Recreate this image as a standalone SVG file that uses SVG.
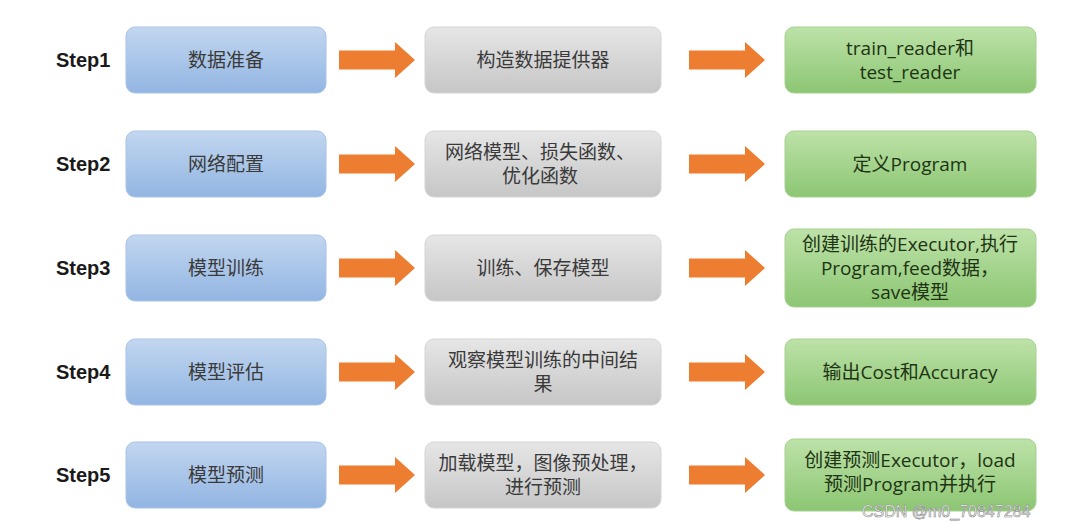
<svg xmlns="http://www.w3.org/2000/svg" width="1080" height="522" viewBox="0 0 1080 522">
<defs>
<linearGradient id="gb" x1="0" y1="0" x2="0" y2="1"><stop offset="0" stop-color="#c2d6f0"/><stop offset="1" stop-color="#92b5e2"/></linearGradient>
<linearGradient id="gg" x1="0" y1="0" x2="0" y2="1"><stop offset="0" stop-color="#e6e6e6"/><stop offset="1" stop-color="#c6c6c6"/></linearGradient>
<linearGradient id="gn" x1="0" y1="0" x2="0" y2="1"><stop offset="0" stop-color="#bde2a8"/><stop offset="1" stop-color="#8cc673"/></linearGradient>
<path id="arr" d="M0,-9.5 H56 V-18 L76,0 L56,18 V9.5 H0 Z"/>
</defs>
<style>
.blue{fill:url(#gb);stroke:#a9c3e6;stroke-width:1}
.gray{fill:url(#gg);stroke:#d4d4d4;stroke-width:1}
.green{fill:url(#gn);stroke:#a5d18f;stroke-width:1}
.t{font-family:"Open Sans","Noto Sans CJK SC",sans-serif;font-size:19px;fill:#3a3a3a;text-anchor:middle}
.tg{font-family:"Open Sans","Noto Sans CJK SC",sans-serif;font-size:19px;fill:#1e3414;text-anchor:middle}
.step{font-family:"Liberation Sans","Noto Sans CJK SC",sans-serif;font-size:20px;font-weight:bold;fill:#1a1a1a}
.a{fill:#ed7d31}
.wm{font-family:"Liberation Sans",sans-serif;font-size:16px;fill:#ffffff;stroke:#888;stroke-width:0.6}
</style>
<rect width="1080" height="522" fill="#ffffff"/>
<g id="steps">
<text class="step" x="56" y="67">Step1</text>
<text class="step" x="56" y="171">Step2</text>
<text class="step" x="56" y="275">Step3</text>
<text class="step" x="56" y="379">Step4</text>
<text class="step" x="56" y="482">Step5</text>
</g>
<g id="n1a"><rect class="blue" x="126" y="27" width="200" height="66" rx="9"/><text class="t" x="226" y="67">数据准备</text></g>
<g id="n1b"><rect class="gray" x="425" y="27" width="236" height="66" rx="9"/><text class="t" x="543" y="67">构造数据提供器</text></g>
<g id="n1c"><rect class="green" x="785" y="27" width="251" height="66" rx="9"/><text class="tg" x="910" y="55">train_reader和</text><text class="tg" x="910" y="79">test_reader</text></g>
<g id="n2a"><rect class="blue" x="126" y="131" width="200" height="66" rx="9"/><text class="t" x="226" y="171">网络配置</text></g>
<g id="n2b"><rect class="gray" x="425" y="131" width="236" height="66" rx="9"/><text class="t" x="540" y="159">网络模型、损失函数、</text><text class="t" x="540" y="183">优化函数</text></g>
<g id="n2c"><rect class="green" x="785" y="131" width="251" height="66" rx="9"/><text class="tg" x="910" y="171">定义Program</text></g>
<g id="n3a"><rect class="blue" x="126" y="235" width="200" height="66" rx="9"/><text class="t" x="226" y="275">模型训练</text></g>
<g id="n3b"><rect class="gray" x="425" y="235" width="236" height="66" rx="9"/><text class="t" x="543" y="275">训练、保存模型</text></g>
<g id="n3c"><rect class="green" x="785" y="229" width="251" height="78" rx="9"/><text class="tg" x="910" y="251">创建训练的Executor,执行</text><text class="tg" x="910" y="275">Program,feed数据，</text><text class="tg" x="910" y="299">save模型</text></g>
<g id="n4a"><rect class="blue" x="126" y="339" width="200" height="66" rx="9"/><text class="t" x="226" y="379">模型评估</text></g>
<g id="n4b"><rect class="gray" x="425" y="339" width="236" height="66" rx="9"/><text class="t" x="543" y="367">观察模型训练的中间结</text><text class="t" x="543" y="391">果</text></g>
<g id="n4c"><rect class="green" x="785" y="339" width="251" height="66" rx="9"/><text class="tg" x="910" y="379">输出Cost和Accuracy</text></g>
<g id="n5a"><rect class="blue" x="126" y="442" width="200" height="66" rx="9"/><text class="t" x="226" y="482">模型预测</text></g>
<g id="n5b"><rect class="gray" x="425" y="442" width="236" height="66" rx="9"/><text class="t" x="543" y="470">加载模型，图像预处理，</text><text class="t" x="543" y="494">进行预测</text></g>
<g id="n5c"><rect class="green" x="785" y="439" width="251" height="72" rx="9"/><text class="tg" x="910" y="467">创建预测Executor，load</text><text class="tg" x="910" y="491">预测Program并执行</text></g>
<g id="connectors">
<use href="#arr" class="a" x="339" y="60"/><use href="#arr" class="a" x="689" y="60"/>
<use href="#arr" class="a" x="339" y="164"/><use href="#arr" class="a" x="689" y="164"/>
<use href="#arr" class="a" x="339" y="268"/><use href="#arr" class="a" x="689" y="268"/>
<use href="#arr" class="a" x="339" y="372"/><use href="#arr" class="a" x="689" y="372"/>
<use href="#arr" class="a" x="339" y="475"/><use href="#arr" class="a" x="689" y="475"/>
</g>
<text class="wm" x="862" y="517">CSDN @m0_70847284</text>
</svg>
